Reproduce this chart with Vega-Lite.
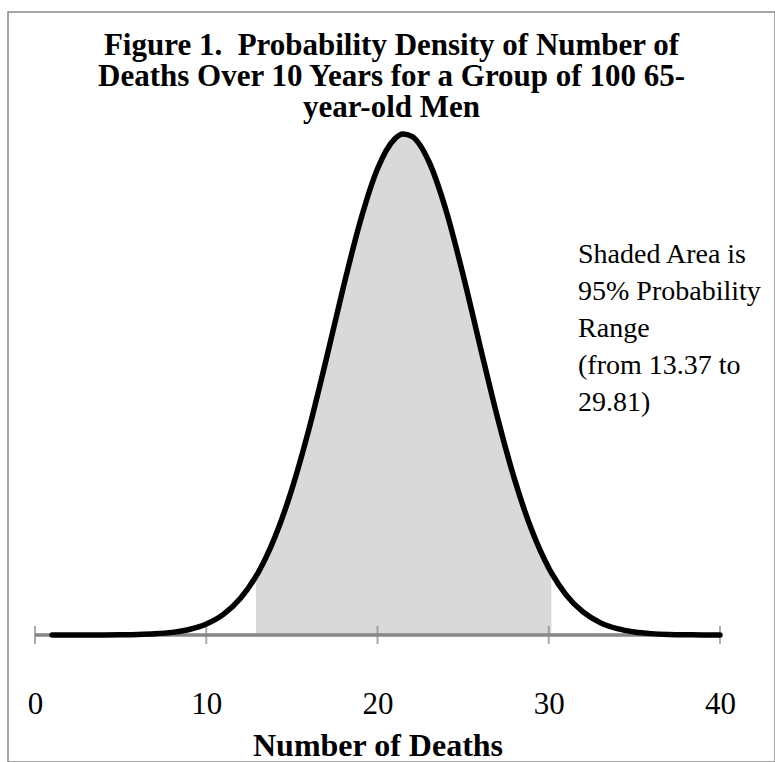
{
  "$schema": "https://vega.github.io/schema/vega-lite/v6.json",
  "width": 767,
  "height": 750,
  "autosize": {"type": "none"},
  "padding": {"left": 8, "top": 12, "right": 0, "bottom": 0},
  "background": "white",
  "title": {
    "text": ["Figure 1.\u00a0 Probability Density of Number of", "Deaths Over 10 Years for a Group of 100 65-", "year-old Men"],
    "font": "Liberation Serif",
    "fontSize": 31,
    "fontWeight": "bold",
    "color": "black",
    "lineHeight": 31,
    "anchor": "middle",
    "offset": -112
  },
  "datasets": {
    "curve": [
      {"x": 1, "density": 0.000001},
      {"x": 2, "density": 0.000002},
      {"x": 3, "density": 0.000005},
      {"x": 4, "density": 0.000014},
      {"x": 5, "density": 0.000038},
      {"x": 6, "density": 0.000095},
      {"x": 7, "density": 0.000225},
      {"x": 8, "density": 0.0005},
      {"x": 9, "density": 0.00105},
      {"x": 10, "density": 0.00209},
      {"x": 11, "density": 0.00392},
      {"x": 12, "density": 0.00696},
      {"x": 12.9, "density": 0.01112},
      {"x": 13, "density": 0.01167},
      {"x": 14, "density": 0.01849},
      {"x": 15, "density": 0.02768},
      {"x": 16, "density": 0.03913},
      {"x": 17, "density": 0.05225},
      {"x": 18, "density": 0.06593},
      {"x": 19, "density": 0.07859},
      {"x": 20, "density": 0.0885},
      {"x": 21, "density": 0.09416},
      {"x": 21.5, "density": 0.09508},
      {"x": 22, "density": 0.09465},
      {"x": 23, "density": 0.08988},
      {"x": 24, "density": 0.08063},
      {"x": 25, "density": 0.06833},
      {"x": 26, "density": 0.05471},
      {"x": 27, "density": 0.04139},
      {"x": 28, "density": 0.02958},
      {"x": 29, "density": 0.01996},
      {"x": 30, "density": 0.01273},
      {"x": 30.15, "density": 0.01185},
      {"x": 31, "density": 0.00767},
      {"x": 32, "density": 0.00437},
      {"x": 33, "density": 0.00235},
      {"x": 34, "density": 0.00119},
      {"x": 35, "density": 0.00057},
      {"x": 36, "density": 0.00026},
      {"x": 37, "density": 0.000111},
      {"x": 38, "density": 0.000045},
      {"x": 39, "density": 0.000017},
      {"x": 40, "density": 0.000006}
    ],
    "ticks": [{"x": 0}, {"x": 10}, {"x": 20}, {"x": 30}, {"x": 40}],
    "note": [{"note": "Shaded Area is\n95% Probability\nRange\n(from 13.37 to\n29.81)"}]
  },
  "layer": [
    {
      "data": {"name": "curve"},
      "transform": [{"filter": "datum.x >= 12.9 && datum.x <= 30.15"}],
      "mark": {"type": "area", "color": "#d9d9d9", "interpolate": "monotone"},
      "encoding": {
        "x": {
          "field": "x",
          "type": "quantitative",
          "scale": {"domain": [-1.577, 43.212], "nice": false, "zero": false},
          "axis": {
            "values": [0, 10, 20, 30, 40],
            "domain": false,
            "ticks": false,
            "grid": false,
            "labelFont": "Liberation Serif",
            "labelFontSize": 31,
            "labelColor": "black",
            "labelPadding": 54,
            "labelFlush": false,
            "labelOverlap": false,
            "offset": -127,
            "title": "Number of Deaths",
            "titleFont": "Liberation Serif",
            "titleFontSize": 32,
            "titleFontWeight": "bold",
            "titleColor": "black",
            "titleX": 369.5,
            "titlePadding": 11
          }
        },
        "y": {"field": "density", "type": "quantitative", "scale": {"domain": [-0.02411, 0.11826], "nice": false, "zero": false}, "axis": null},
        "y2": {"datum": 0}
      }
    },
    {
      "data": {"name": "ticks"},
      "mark": {"type": "rule", "color": "#878787", "strokeWidth": 2.5},
      "encoding": {
        "x": {"datum": 0},
        "x2": {"datum": 40},
        "y": {"datum": 0}
      }
    },
    {
      "data": {"name": "ticks"},
      "mark": {"type": "tick", "color": "#878787", "thickness": 2, "size": 18, "orient": "vertical"},
      "encoding": {
        "x": {"field": "x", "type": "quantitative"},
        "y": {"datum": 0}
      }
    },
    {
      "data": {"name": "curve"},
      "mark": {"type": "line", "color": "black", "strokeWidth": 5.5, "interpolate": "monotone", "strokeCap": "round"},
      "encoding": {
        "x": {"field": "x", "type": "quantitative"},
        "y": {"field": "density", "type": "quantitative"}
      }
    },
    {
      "data": {"name": "note"},
      "mark": {"type": "text", "font": "Liberation Serif", "fontSize": 28, "lineHeight": 37, "align": "left", "baseline": "top", "color": "black", "lineBreak": "\n"},
      "encoding": {
        "x": {"datum": 31.71},
        "y": {"datum": 0.0748},
        "text": {"field": "note", "type": "nominal"}
      }
    }
  ],
  "config": {
    "view": {"stroke": "#898989", "strokeWidth": 1.5},
    "font": "Liberation Serif"
  }
}
